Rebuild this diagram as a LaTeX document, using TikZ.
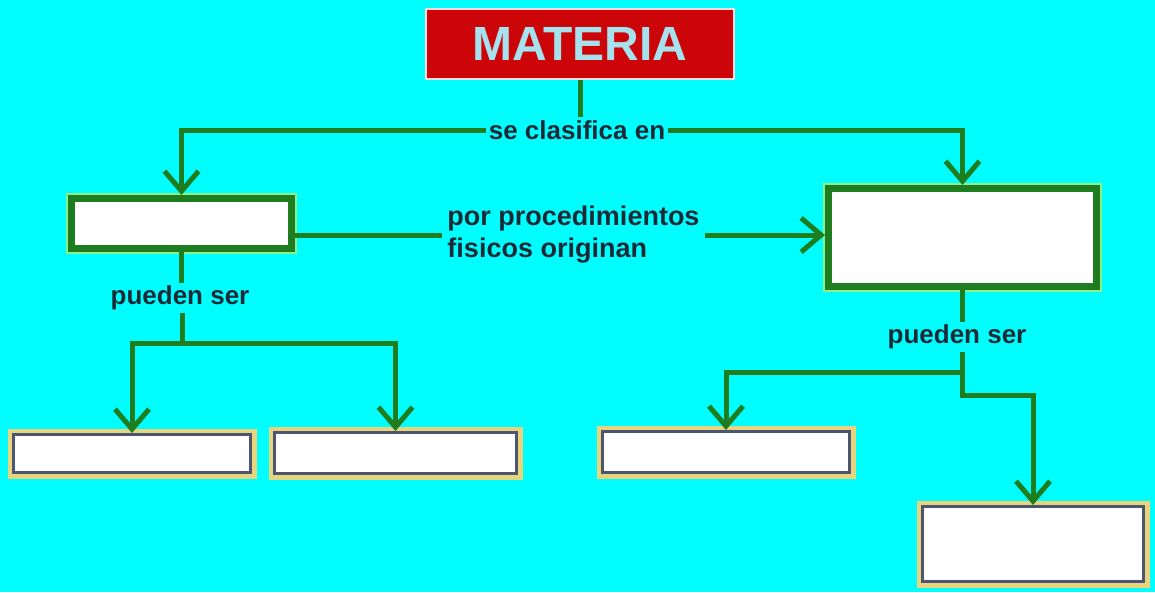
\documentclass[tikz,border=0pt]{standalone}
\usepackage{fontspec}
\setmainfont{Liberation Sans}
\usetikzlibrary{arrows.meta}
\definecolor{bg}{HTML}{00FEFE}
\definecolor{dkgreen}{HTML}{1E7D1E}
\definecolor{ltgreen}{HTML}{8CF08C}
\definecolor{redbox}{HTML}{CC0608}
\definecolor{matxt}{HTML}{A6E2EE}
\definecolor{txt}{HTML}{1C2A38}
\definecolor{ylw}{HTML}{E8D47C}
\definecolor{slate}{HTML}{4A5672}
\tikzset{
  gbox/.style={draw=dkgreen, line width=7pt, fill=white, inner sep=0pt,
    preaction={draw=ltgreen, line width=11pt}},
  ybox/.style={draw=slate, line width=3pt, fill=white, inner sep=0pt,
    preaction={draw=ylw, line width=12pt}},
  lbl/.style={text=txt, font=\bfseries\fontsize{26}{30}\selectfont, inner sep=3pt},
  conn/.style={draw=dkgreen, line width=5pt},
  arr/.style={conn, -{Straight Barb[length=20pt,width=34pt]}},
}
\begin{document}
\begin{tikzpicture}[x=1pt,y=-1pt]
\fill[bg] (0,0) rectangle (1155,592);
\useasboundingbox (0,0) rectangle (1155,592);

\node[fill=redbox, draw=white!85!redbox, line width=2pt, minimum width=308pt, minimum height=70pt, inner sep=0pt,
  text=matxt, font=\bfseries\fontsize{48}{52}\selectfont] (mat) at (580,44) {MATERIA};

\node[lbl] (sc) at (577,130) {se clasifica en};

\node[gbox, minimum width=220pt, minimum height=50pt] (b1) at (181.5,223.5) {};
\node[gbox, minimum width=268pt, minimum height=98pt] (b2) at (962.5,237.5) {};

\node[lbl, align=left, font=\bfseries\fontsize{27}{32}\selectfont, inner sep=5pt] (pp) at (573.5,235) {por procedimientos\\fisicos originan};

\node[lbl] (ps1) at (180,298) {pueden ser};
\node[lbl] (ps2) at (957,337) {pueden ser};

\node[ybox, minimum width=237pt, minimum height=38pt] (b3) at (132,453.5) {};
\node[ybox, minimum width=242pt, minimum height=41pt] (b4) at (395.5,453) {};
\node[ybox, minimum width=247pt, minimum height=41pt] (b5) at (726,452) {};
\node[ybox, minimum width=221pt, minimum height=75pt] (b6) at (1033,544) {};

\coordinate (j1) at (182,343);
\coordinate (j2) at (962,372);
\coordinate (j3) at (962,395);

\draw[conn] (mat.south) -- (mat.south |- sc.north);
\draw[arr] (sc.west) -| (b1.north);
\draw[arr] (sc.east) -| (b2.north);

\draw[conn] (pp.west -| b1.east) -- (pp.west);
\draw[arr] (pp.east) -- (pp.east -| b2.west);

\draw[conn] (b1.south) -- (b1.south |- ps1.north);
\draw[conn] (j1 |- ps1.south) -- (j1);
\draw[arr] (j1) -| (b3.north);
\draw[arr] (j1) -| (b4.north);

\draw[conn] (b2.south) -- (b2.south |- ps2.north);
\draw[conn] (j2 |- ps2.south) -- (j2);
\draw[arr] (j2) -| (b5.north);
\draw[arr] (j2) -- (j3) -| (b6.north);
\end{tikzpicture}
\end{document}
